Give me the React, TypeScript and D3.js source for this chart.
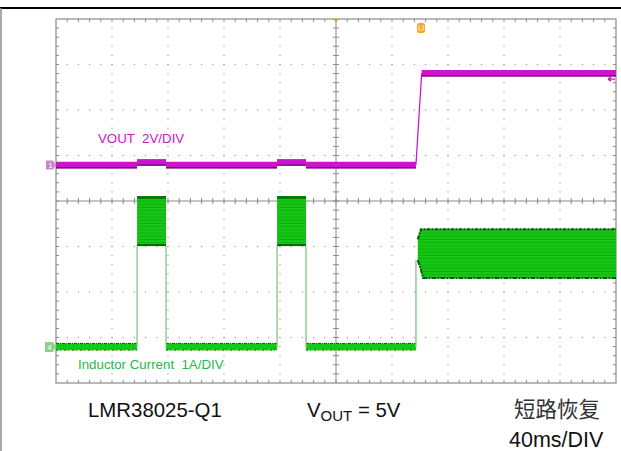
import React from 'react';
import * as d3 from 'd3';

const W = 621;
const H = 451;

// time axis: 40 ms/DIV, 10 divisions
const timeDomainMs = [0, 400];
const vertDivs = [-4, 4];
const triggerTimeMs = 260.7;

// Channel 1: VOUT (V), 2 V/DIV
const ch1VoltsPerDiv = 2;
const ch1OffsetDiv = 0.79;
const voutTime = [0, 57.9, 57.9, 78.6, 78.6, 157.9, 157.9, 178.6, 178.6, 257.1, 261.2, 400];
const voutLevel = [0, 0, 0.12, 0.12, 0, 0, 0.12, 0.12, 0, 0, 4.04, 4.04];

// Channel 4: inductor current (A), 1 A/DIV
const ch4AmpsPerDiv = 1;
const ch4OffsetDiv = -3.21;
const baseStart = [0, 78.6, 178.6];
const baseEnd = [57.9, 157.9, 257.1];
const baseLo = [-0.07, -0.07, -0.07];
const baseHi = [0.08, 0.08, 0.08];
const burstStart = [57.9, 157.9];
const burstEnd = [78.6, 178.6];
const burstLo = [2.22, 2.22];
const burstHi = [3.32, 3.32];
const steadyTime = [258.4, 260.7, 262.1, 400];
const steadyHi = [2.37, 2.59, 2.59, 2.59];
const steadyLo = [1.91, 1.7, 1.52, 1.52];
const edgeTimes = [57.9, 78.6, 157.9, 178.6, 257.1];
const edgeTops = [2.22, 2.22, 2.22, 2.22, 1.91];

const labelCh1 = 'VOUT  2V/DIV';
const labelCh4 = 'Inductor Current  1A/DIV';
const partName = 'LMR38025-Q1';
const voutMain = 'V';
const voutSub = 'OUT';
const voutRest = ' = 5V';
const titleCn = '短路恢复';
const timeDiv = '40ms/DIV';

const MAG = '#cc14cc';
const MAG_DARK = '#6e006e';
const GRN = '#14c814';
const GRN_DARK = '#005c00';
const GRID = '#8a8a8a';

export default function App() {
  const x = d3.scaleLinear().domain(timeDomainMs).range([56, 616]);
  const yDiv = d3.scaleLinear().domain(vertDivs).range([383, 19]);
  const yV = (v: number) => yDiv(ch1OffsetDiv + v / ch1VoltsPerDiv);
  const yA = (a: number) => yDiv(ch4OffsetDiv + a / ch4AmpsPerDiv);

  const pxDivX = (x(40) - x(0));
  const pxDivY = (yDiv(0) - yDiv(1));

  // grid elements
  const dots: JSX.Element[] = [];
  for (let d = -3; d <= 3; d++) {
    if (d === 0) continue;
    const yy = yDiv(d);
    for (let k = 1; k < 50; k++) {
      const xx = x(0) + (k * pxDivX) / 5;
      dots.push(<rect key={`h${d}-${k}`} x={xx - 0.6} y={yy - 0.6} width={1.2} height={1.2} fill="#a0a0a0" />);
    }
  }
  for (let d = 1; d <= 9; d++) {
    if (d === 5) continue;
    const xx = x(d * 40);
    for (let k = 1; k < 40; k++) {
      const yy = yDiv(-4) - (k * pxDivY) / 5;
      dots.push(<rect key={`v${d}-${k}`} x={xx - 0.6} y={yy - 0.6} width={1.2} height={1.2} fill="#a0a0a0" />);
    }
  }
  const ticks: JSX.Element[] = [];
  const cx = x(200);
  const cy = yDiv(0);
  for (let k = 1; k < 50; k++) {
    const xx = x(0) + (k * pxDivX) / 5;
    ticks.push(<line key={`ct${k}`} x1={xx} x2={xx} y1={cy - 3} y2={cy + 3} stroke={GRID} strokeWidth={1} />);
    ticks.push(<line key={`tt${k}`} x1={xx} x2={xx} y1={yDiv(4)} y2={yDiv(4) + 3} stroke={GRID} strokeWidth={1} />);
    ticks.push(<line key={`bt${k}`} x1={xx} x2={xx} y1={yDiv(-4)} y2={yDiv(-4) - 3} stroke={GRID} strokeWidth={1} />);
  }
  for (let k = 1; k < 40; k++) {
    const yy = yDiv(-4) - (k * pxDivY) / 5;
    ticks.push(<line key={`cv${k}`} x1={cx - 3} x2={cx + 3} y1={yy} y2={yy} stroke={GRID} strokeWidth={1} />);
    ticks.push(<line key={`lv${k}`} x1={x(0)} x2={x(0) + 3} y1={yy} y2={yy} stroke={GRID} strokeWidth={1} />);
    ticks.push(<line key={`rv${k}`} x1={x(400)} x2={x(400) - 3} y1={yy} y2={yy} stroke={GRID} strokeWidth={1} />);
  }

  // VOUT segments
  const thick: [number, number][][] = [];
  const thin: [number, number][][] = [];
  for (let i = 0; i < voutTime.length - 1; i++) {
    const seg: [number, number][] = [
      [x(voutTime[i]), yV(voutLevel[i])],
      [x(voutTime[i + 1]), yV(voutLevel[i + 1])],
    ];
    if (voutLevel[i] === voutLevel[i + 1]) thick.push(seg);
    else thin.push(seg);
  }
  const line = d3.line<[number, number]>();

  // inductor current bands
  const area = d3
    .area<number>()
    .x((_, i) => x(steadyTime[i]))
    .y0((_, i) => yA(steadyLo[i]))
    .y1((_, i) => yA(steadyHi[i]));
  const steadyPath = area(steadyTime) || '';
  const steadyTop = d3.line<number>().x((_, i) => x(steadyTime[i])).y((_, i) => yA(steadyHi[i]))(steadyTime) || '';
  const steadyBot = d3.line<number>().x((_, i) => x(steadyTime[i])).y((_, i) => yA(steadyLo[i]))(steadyTime) || '';

  const tx = x(triggerTimeMs);

  return (
    <svg width={W} height={H} style={{ position: 'fixed', left: 0, top: 0, background: '#fff' }}>
      <defs>
        <pattern id="stripes" patternUnits="userSpaceOnUse" width={8} height={3.2}>
          <rect width={8} height={3.2} fill={GRN} />
          <rect y={2.2} width={8} height={0.8} fill="#0ea80e" />
        </pattern>
      </defs>
      <rect width={W} height={H} fill="#fff" />
      {/* page frame */}
      <line x1={0} x2={W} y1={8} y2={8} stroke="#000" strokeWidth={2} />
      <line x1={1} x2={1} y1={8} y2={H} stroke="#8c8c8c" strokeWidth={1.5} />

      {/* grid */}
      {dots}
      <line x1={x(0)} x2={x(400)} y1={cy} y2={cy} stroke={GRID} strokeWidth={1} />
      <line x1={cx} x2={cx} y1={yDiv(4)} y2={yDiv(-4)} stroke={GRID} strokeWidth={1} />
      {ticks}
      <rect x={x(0)} y={yDiv(4)} width={x(400) - x(0)} height={yDiv(-4) - yDiv(4)} fill="none" stroke={GRID} strokeWidth={1.2} />

      {/* inductor current */}
      {baseStart.map((t, i) => (
        <g key={`b${i}`}>
          <rect x={x(t)} y={yA(baseHi[i])} width={x(baseEnd[i]) - x(t)} height={yA(baseLo[i]) - yA(baseHi[i])} fill={GRN} />
          <line x1={x(t)} x2={x(baseEnd[i])} y1={yA(baseHi[i])} y2={yA(baseHi[i])} stroke={GRN_DARK} strokeWidth={1} strokeDasharray="3 1 1 1" />
          <line x1={x(t)} x2={x(baseEnd[i])} y1={yA(baseLo[i])} y2={yA(baseLo[i])} stroke={GRN_DARK} strokeWidth={0.8} strokeDasharray="2 2 1 3" />
        </g>
      ))}
      {edgeTimes.map((t, i) => (
        <line key={`e${i}`} x1={x(t)} x2={x(t)} y1={yA(0)} y2={yA(edgeTops[i])} stroke="#7fc77f" strokeWidth={1.3} />
      ))}
      {burstStart.map((t, i) => (
        <g key={`u${i}`}>
          <rect x={x(t)} y={yA(burstHi[i])} width={x(burstEnd[i]) - x(t)} height={yA(burstLo[i]) - yA(burstHi[i])} fill="url(#stripes)" />
          <rect x={x(t)} y={yA(burstHi[i])} width={x(burstEnd[i]) - x(t)} height={3} fill={GRN_DARK} opacity={0.7} />
          <rect x={x(t)} y={yA(burstLo[i]) - 2} width={x(burstEnd[i]) - x(t)} height={2} fill={GRN_DARK} opacity={0.85} />
        </g>
      ))}
      <path d={steadyPath} fill="url(#stripes)" />
      <path d={steadyTop} fill="none" stroke={GRN_DARK} strokeWidth={2} strokeDasharray="4 1 2 1" />
      <path d={steadyBot} fill="none" stroke={GRN_DARK} strokeWidth={2} strokeDasharray="5 1 2 1" />

      {/* VOUT */}
      {thin.map((s, i) => (
        <path key={`tn${i}`} d={line(s) || ''} fill="none" stroke={MAG} strokeWidth={1.3} />
      ))}
      {thick.map((s, i) => (
        <g key={`tk${i}`}>
          <path d={line(s) || ''} fill="none" stroke={MAG} strokeWidth={6.5} />
          <path d={line(s) || ''} fill="none" stroke={MAG_DARK} strokeWidth={1.2} transform="translate(0,2.8)" />
        </g>
      ))}

      {/* channel markers */}
      <path d={`M${x(0) - 10},${yV(0) - 4.5} h7 l3,4.5 l-3,4.5 h-7 z`} fill="#c98ac9" />
      <text x={x(0) - 7.5} y={yV(0) + 3} fontSize={7} fill="#fff" fontFamily="Liberation Sans">1</text>
      <path d={`M${x(0) - 11},${yA(0) - 5} h8 l3,5 l-3,5 h-8 z`} fill="#8fcf8f" />
      <text x={x(0) - 8.5} y={yA(0) + 3} fontSize={7} fill="#fff" fontFamily="Liberation Sans">4</text>
      {/* trigger markers */}
      <path d={`M${x(200) - 3},${yDiv(4)} h6 l-3,3 z`} fill="#f39c12" />
      <rect x={tx - 4} y={yDiv(4) + 4} width={8} height={10} rx={2.5} fill="#f5a623" />
      <path d={`M${tx - 2},${yDiv(4) + 6} v5 h4 v-5`} fill="none" stroke="#fde3b0" strokeWidth={1.2} />
      <path d={`M${x(400) - 8},${yV(4.04) + 6} h7 M${x(400) - 8},${yV(4.04) + 6} l3,-2 M${x(400) - 8},${yV(4.04) + 6} l3,2`} stroke={MAG} strokeWidth={1.3} fill="none" />

      {/* labels */}
      <text x={98} y={143} fontSize={13.3} fill={MAG} fontFamily="Liberation Sans" style={{ whiteSpace: 'pre' }}>{labelCh1}</text>
      <text x={78} y={369} fontSize={13.3} fill="#1fb848" fontFamily="Liberation Sans" style={{ whiteSpace: 'pre' }}>{labelCh4}</text>

      <text x={88} y={417} fontSize={20.4} fill="#111" fontFamily="Liberation Sans">{partName}</text>
      <text x={307} y={417} fontSize={20.4} fill="#111" fontFamily="Liberation Sans" style={{ whiteSpace: 'pre' }}>
        {voutMain}
        <tspan fontSize={15} dy={4}>{voutSub}</tspan>
        <tspan dy={-4}>{voutRest}</tspan>
      </text>
      <text x={514} y={417} fontSize={21.5} fill="#333" fontFamily="Noto Sans CJK SC">{titleCn}</text>
      <text x={509} y={447} fontSize={21.5} fill="#111" fontFamily="Liberation Sans">{timeDiv}</text>
    </svg>
  );
}
